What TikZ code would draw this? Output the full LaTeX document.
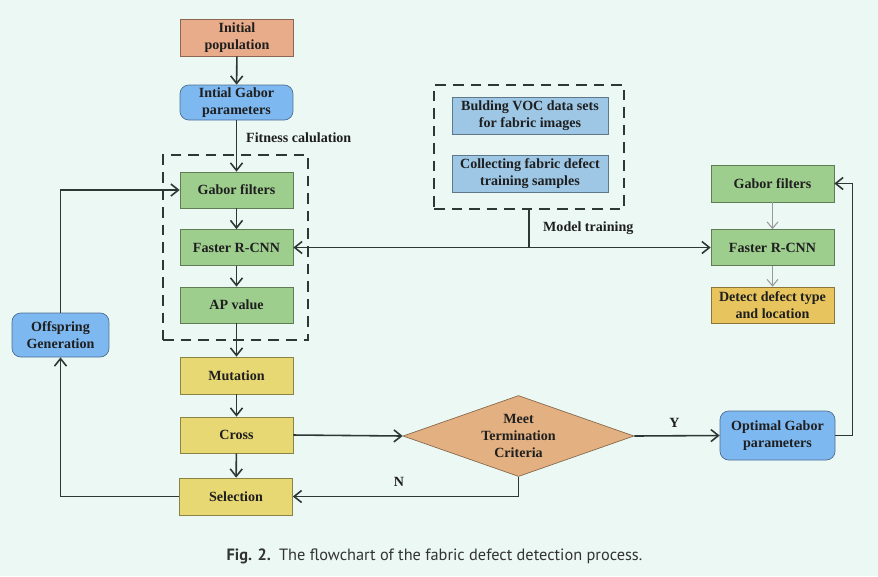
\documentclass[tikz,border=0pt]{standalone}
\usepackage{fontspec}
\setmainfont{Liberation Serif}
\newfontfamily\capfont{PT Sans}
\usetikzlibrary{arrows.meta, positioning, shapes.geometric, calc}

\definecolor{bgmint}{RGB}{235,248,244}
\definecolor{linedark}{RGB}{45,55,52}
\definecolor{salmon}{RGB}{233,172,138}
\definecolor{skyblue}{RGB}{126,184,240}
\definecolor{leafgreen}{RGB}{158,206,142}
\definecolor{sandyellow}{RGB}{232,216,116}
\definecolor{goldyellow}{RGB}{231,196,94}
\definecolor{paleblue}{RGB}{157,199,229}
\definecolor{tan}{RGB}{227,177,129}

\begin{document}
\begin{tikzpicture}[
    x=0.02cm, y=-0.02cm,
    box/.style={draw=#1!60!black, minimum width=2.26cm, minimum height=0.72cm,
                align=center, inner sep=1pt,
                font=\fontsize{8}{9.8}\selectfont\bfseries, text=black!88, fill=#1},
    rbox/.style={box=#1, rounded corners=5pt},
    dashbox/.style={draw=linedark, dashed, dash pattern=on 6pt off 4pt, thick},
    arr/.style={-{Straight Barb[length=1.5mm, width=2.4mm]}, draw=linedark, line width=0.9pt},
    garr/.style={-{Straight Barb[length=1.3mm, width=2.2mm]}, draw=gray!80, line width=0.6pt},
    lbl/.style={font=\fontsize{8}{9.8}\selectfont\bfseries, text=black!88},
    >=Stealth
  ]
  \fill[bgmint] (0,0) rectangle (878,576);
  \useasboundingbox (0,0) rectangle (878,576);

  % GA column
  \node[box=salmon, minimum height=0.74cm] (pop) at (237, 37.5) {Initial\\population};
  \node[rbox=skyblue, minimum height=0.7cm] (igp) at (236.5, 102.5) {Intial Gabor\\parameters};
  \node[dashbox, minimum width=2.9cm, minimum height=3.7cm] (evalbox) at (235.5, 247.5) {};
  \node[box=leafgreen] (gf) at (236.5, 190) {Gabor filters};
  \node[box=leafgreen] (frcnn) at (236.5, 247.5) {Faster R-CNN};
  \node[box=leafgreen] (ap) at (236.5, 305) {AP value};
  \node[box=sandyellow, minimum height=0.74cm] (mut) at (236.5, 375.5) {Mutation};
  \node[box=sandyellow] (cross) at (236.5, 435) {Cross};
  \node[box=sandyellow, minimum height=0.74cm] (sel) at (236, 496.5) {Selection};
  \node[rbox=skyblue, minimum width=1.94cm, minimum height=0.88cm] (off) at (60.5, 335) {Offspring\\Generation};

  % Decision and result
  \node[diamond, draw=tan!60!black, fill=tan, aspect=2.85, inner sep=0pt,
        minimum width=4.62cm, minimum height=1.62cm, align=center,
        font=\fontsize{8}{9.8}\selectfont\bfseries, text=black!88] (meet) at (518.5, 436) {Meet\\Termination\\Criteria};
  \node[rbox=skyblue, minimum width=2.3cm, minimum height=0.98cm] (opt) at (777.5, 435.5) {Optimal Gabor\\parameters};

  % Training data
  \node[dashbox, minimum width=3.8cm, minimum height=2.48cm] (vocbox) at (529, 147) {};
  \node[box=paleblue, minimum width=3.12cm, minimum height=0.74cm] (voc) at (530, 115.5) {Bulding VOC data sets\\for fabric images};
  \node[box=paleblue, minimum width=3.12cm, minimum height=0.74cm] (samples) at (530, 173.5) {Collecting fabric defect\\training samples};

  % Detection column
  \node[box=leafgreen, minimum width=2.46cm, minimum height=0.74cm] (gf2) at (772.5, 183.5) {Gabor filters};
  \node[box=leafgreen, minimum width=2.46cm] (frcnn2) at (772.5, 247.5) {Faster R-CNN};
  \node[box=goldyellow, minimum width=2.46cm] (detect) at (772.5, 305) {Detect defect type\\and location};

  % Arrows
  \draw[arr] (pop) -- (igp);
  \draw[arr] (igp) -- (gf);
  \draw[arr] (gf) -- (frcnn);
  \draw[arr] (frcnn) -- (ap);
  \draw[arr] (ap) -- (mut);
  \draw[arr] (mut) -- (cross);
  \draw[arr] (cross) -- (sel);
  \draw[arr] (cross.east) -- (meet.west);
  \draw[arr] (meet.east) -- node[lbl, above=1pt, pos=0.47] {Y} (opt.west);
  \draw[arr] (meet.south) |- node[lbl, above=2pt, pos=0.765] {N} (sel.east);
  \draw[arr] (sel.west) -| (off.south);
  \draw[arr] (off.north) |- (gf.west);
  \draw[arr] (opt.east) -- ++(17,0) |- (gf2.east);
  \coordinate (mt) at (vocbox.south |- frcnn.east);
  \draw[draw=linedark, line width=0.9pt] (vocbox.south) -- (mt);
  \draw[arr] (mt) -- (frcnn.east);
  \draw[arr] (mt) -- (frcnn2.west);
  \draw[garr] (gf2) -- (frcnn2);
  \draw[garr] (frcnn2) -- (detect);

  % Labels
  \node[lbl, anchor=west] at (240, 138) {Fitness calulation};
  \node[lbl, anchor=west] at (537, 228) {Model training};
  \node[font=\capfont\fontsize{9.3}{11}\selectfont, text=black!80] (caption) at (434.5, 556)
    {\textbf{Fig. 2.}\enspace The flowchart of the fabric defect detection process.};

\end{tikzpicture}
\end{document}
